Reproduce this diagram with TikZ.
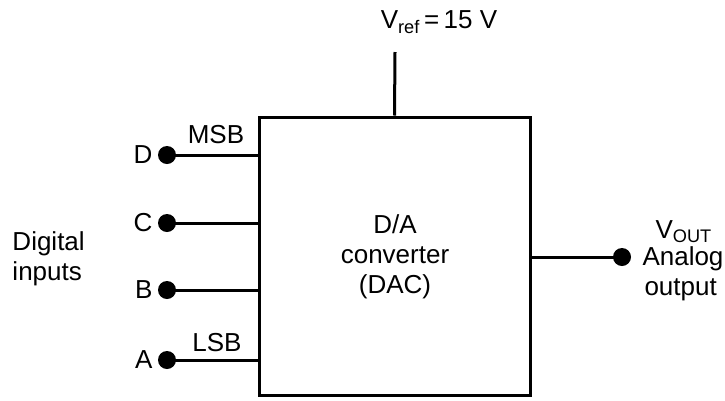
\documentclass[tikz,border=0pt]{standalone}
\usepackage{fontspec}
\setmainfont{Liberation Sans}
\usetikzlibrary{positioning}

\tikzset{
    dot/.style={circle, fill, inner sep=0pt, minimum size=18pt},
    lbl/.style={font=\fontsize{26}{30}\selectfont, inner sep=0pt},
}

\begin{document}
\begin{tikzpicture}[x=1pt, y=-1pt, line width=3pt]
            \useasboundingbox (0,0) rectangle (725,400);

            \node[draw, minimum width=271pt, minimum height=278pt] (dac) at (394.5,256) {};
            \node[lbl, align=center] (dactext) at (395,257) {D/A\\converter\\(DAC)};

            \node[dot] (D) at (167,155) {};
            \node[dot] (C) at (167,223) {};
            \node[dot] (B) at (167,290) {};
            \node[dot] (A) at (167,360) {};
            \node[dot] (Vout) at (622,257) {};
            \coordinate (Vref) at (395,52);

            \foreach \p in {A,B,C,D}{
                \node[lbl, left=13pt of \p.center] (lbl\p) {\p};
                \draw (\p.center) -- (\p.center -| dac.west);
            }
            \draw (dac.east |- Vout.center) -- (Vout.center);
            \draw (dac.north) -- (Vref);

            \node[lbl] (msb) at (216,135) {MSB};
            \node[lbl] (lsb) at (217,343) {LSB};
            \node[lbl, align=left, anchor=west] (digital) at (11,259) {Digital\\inputs};
            \node[lbl] (vreflbl) at (439,22) {V\textsubscript{ref}\,=\,15 V};
            \node[lbl, anchor=west] (voutlbl) at (654,232) {V\textsubscript{OUT}};
            \node[lbl, anchor=west] (analog) at (641,259) {Analog};
            \node[lbl, anchor=west] (output) at (643,290) {output};
        \end{tikzpicture}
\end{document}
